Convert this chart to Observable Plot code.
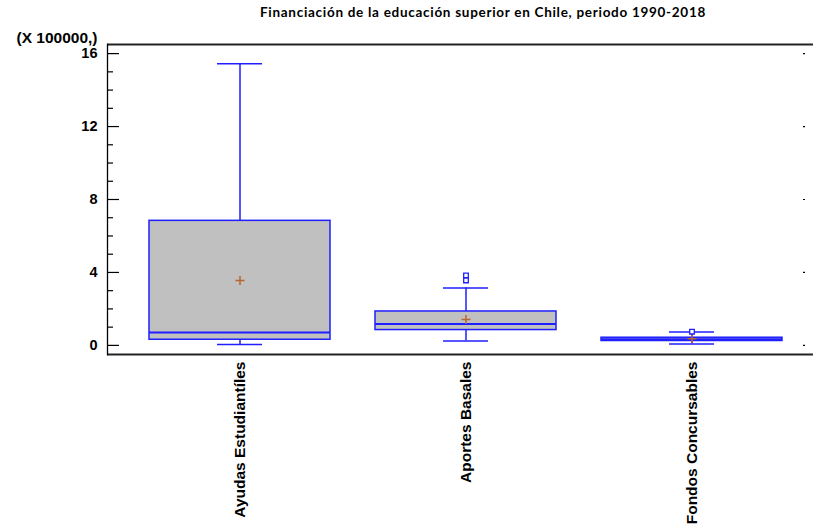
<!DOCTYPE html>
<html>
<head>
<meta charset="utf-8">
<script src="https://cdn.jsdelivr.net/npm/d3@7"></script>
<script src="https://cdn.jsdelivr.net/npm/@observablehq/plot@0.6"></script>
<style>
  html, body { margin: 0; padding: 0; background: #fff; }
  #wrap { position: relative; width: 813px; height: 529px; }
  #title { position: absolute; top: 4px; left: 260px;
           font-family: Lato, "Open Sans", sans-serif; font-weight: 700; font-size: 13.5px;
           white-space: nowrap; color: #000; }
  #chart { position: absolute; top: 0; left: 0; }
  #chart svg text { font-family: Arial, "Liberation Sans", sans-serif; }
</style>
</head>
<body>
<div id="wrap">
  <div id="chart"></div>
  <span id="title">Financiación de la educación superior en Chile, periodo 1990-2018</span>
</div>
<script>
// Data (values in units of 100000)
const categories = ["Ayudas Estudiantíles", "Aportes Basales", "Fondos Concursables"];
const whiskerLow = [0.05, 0.24, 0.07];
const q1 = [0.31, 0.84, 0.24];
const median = [0.71, 1.17, 0.33];
const q3 = [6.83, 1.86, 0.42];
const whiskerHigh = [15.45, 3.14, 0.73];
const means = [3.56, 1.42, 0.37];
const outlierCategory = ["Aportes Basales", "Aportes Basales", "Fondos Concursables"];
const outlierValue = [3.84, 3.56, 0.75];
const yMajorTicks = [0, 4, 8, 12, 16];
const yMinorTicks = [1, 2, 3, 5, 6, 7, 9, 10, 11, 13, 14, 15];
const yDomain = [-0.5, 16.5];
const yAxisNote = "(X 100000,)";

const rows = categories.map((c, i) => ({
  cat: c, lo: whiskerLow[i], q1: q1[i], med: median[i], q3: q3[i], hi: whiskerHigh[i], mean: means[i]
}));
const outliers = outlierCategory.map((c, i) => ({cat: c, v: outlierValue[i]}));

const blue = "#1f1fff";
const font = "Arial, 'Liberation Sans', sans-serif";

const chart = Plot.plot({
  width: 813,
  height: 529,
  marginLeft: 107,
  marginRight: 0,
  marginTop: 44,
  marginBottom: 175,
  style: {fontFamily: font, background: "white", color: "#000"},
  x: {type: "band", domain: categories, paddingInner: 0.2, paddingOuter: 0.16, align: 0.576},
  y: {domain: yDomain},
  marks: [
    // frame lines
    Plot.ruleY(yDomain, {stroke: "#222", strokeWidth: 2}),
    Plot.frame({anchor: "left", stroke: "#000", strokeWidth: 1.3}),
    // axis ticks drawn inward
    Plot.tickY(yMajorTicks, {y: d => d, insetRight: 694, stroke: "#000", strokeWidth: 1.2}),
    Plot.tickY(yMinorTicks, {y: d => d, insetRight: 700, stroke: "#000", strokeWidth: 1.2}),
    Plot.tickY(yMajorTicks, {y: d => d, insetLeft: 696, insetRight: 8, stroke: "#000", strokeWidth: 1.2}),
    Plot.axisY({ticks: yMajorTicks, tickSize: 0, tickPadding: 10, fontSize: 14.5, fontWeight: "bold", label: null}),
    Plot.text([yAxisNote], {frameAnchor: "top-left", dx: -10, dy: -6, textAnchor: "end", lineAnchor: "middle", fontSize: 15.5, fontWeight: "bold"}),
    Plot.axisX({tickRotate: -90, tickSize: 0, tickPadding: 7, fontSize: 15.5, fontWeight: "bold", label: null}),
    // whiskers
    Plot.ruleX(rows, {x: "cat", y1: "lo", y2: "q1", stroke: blue, strokeWidth: 1.5}),
    Plot.ruleX(rows, {x: "cat", y1: "q3", y2: "hi", stroke: blue, strokeWidth: 1.5}),
    // boxes
    Plot.barY(rows, {x: "cat", y1: "q1", y2: "q3", fill: "#c0c0c0", stroke: blue, strokeWidth: 1.5}),
    Plot.tickY(rows, {x: "cat", y: "med", stroke: blue, strokeWidth: 2}),
    // caps
    Plot.tickY(rows, {x: "cat", y: "lo", stroke: blue, strokeWidth: 1.5, insetLeft: 68, insetRight: 68}),
    Plot.tickY(rows, {x: "cat", y: "hi", stroke: blue, strokeWidth: 1.5, insetLeft: 68, insetRight: 68}),
    // means
    Plot.dot(rows, {x: "cat", y: "mean", symbol: "plus", r: 3, stroke: "#b8652e", strokeWidth: 1.5}),
    // outliers
    Plot.dot(outliers, {x: "cat", y: "v", symbol: "square", r: 2.6, stroke: blue, fill: "white", strokeWidth: 1.3})
  ]
});
document.getElementById("chart").appendChild(chart);

// stretch title letter spacing to match reference width
const t = document.getElementById("title");
const target = 446;
const w = t.getBoundingClientRect().width;
const n = t.textContent.length;
t.style.letterSpacing = ((target - w) / n) + "px";
</script>
</body>
</html>
